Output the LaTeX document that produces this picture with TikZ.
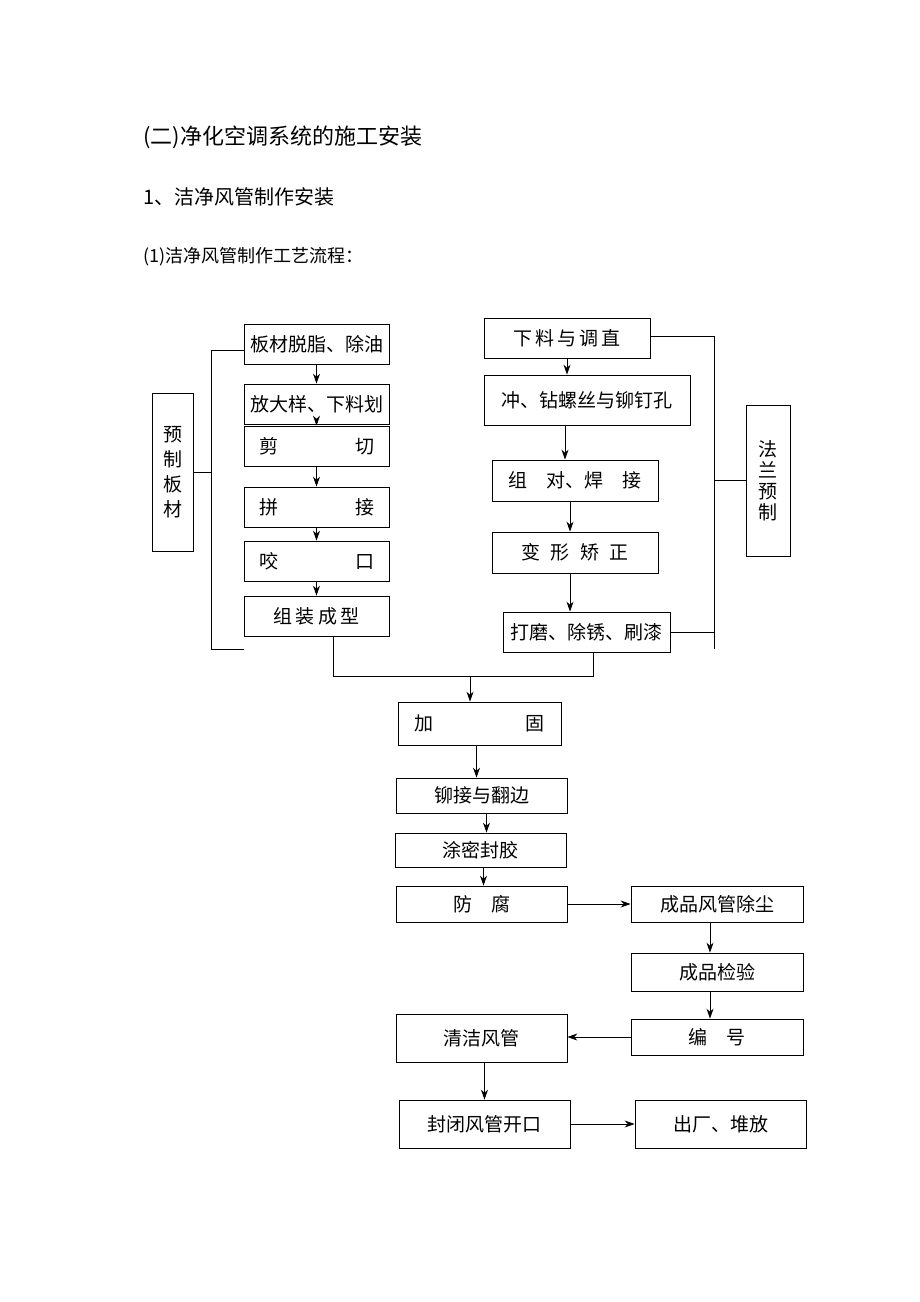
\documentclass[tikz,border=0pt]{standalone}
\usepackage{fontspec}
\setmainfont{Noto Sans CJK SC}
\usetikzlibrary{arrows.meta}
\tikzset{
  box/.style={draw,line width=0.8pt,inner sep=0pt,align=center,font=\fontsize{19}{19}\selectfont},
  arr/.style={-{Stealth[length=10pt,width=7pt]},line width=0.8pt},
  ln/.style={line width=0.8pt}
}
\begin{document}
\begin{tikzpicture}[x=1pt,y=-1pt]
  \useasboundingbox (0,0) rectangle (920,1302);
  % headings
  \node[anchor=west,font=\fontsize{22}{22}\selectfont] (h1) at (140,137) {(二)净化空调系统的施工安装};
  \node[anchor=west,font=\fontsize{20}{20}\selectfont] (h2) at (140,197) {1、洁净风管制作安装};
  \node[anchor=west,font=\fontsize{18}{18}\selectfont] (h3) at (140,257) {(1)洁净风管制作工艺流程：};
  % left column
  \node[box,minimum width=145pt,minimum height=40pt] (b1) at (316.5,344) {板材脱脂、除油};
  \node[box,minimum width=145pt,minimum height=40pt] (b2) at (316.5,404) {放大样、下料划};
  \node[box,minimum width=145pt,minimum height=40pt,text width=115pt] (b3) at (316.5,446) {剪\hfill 切};
  \node[box,minimum width=145pt,minimum height=40pt,text width=115pt] (b4) at (316.5,507) {拼\hfill 接};
  \node[box,minimum width=145pt,minimum height=40pt,text width=115pt] (b5) at (316.5,561) {咬\hfill 口};
  \node[box,minimum width=145pt,minimum height=40pt] (b6) at (316.5,616) {组\,装\,成\,型};
  \node[box,minimum width=41pt,minimum height=158pt,text width=20pt] (pre) at (172.5,472) {预\\[6pt]制\\[6pt]板\\[6pt]材};
  \foreach \a/\b in {b1/b2,b2/b3,b3/b4,b4/b5,b5/b6}
    \draw[arr] (\a.south) -- (\b.north);
  \coordinate (lt) at (211,350);
  \coordinate (lb) at (211,649);
  \draw[ln] (b1.west |- lt) -- (lt) -- (lb) -- (b6.west |- lb);
  \draw[ln] (pre.east) -- (pre.east -| lt);
  % right column
  \node[box,minimum width=166pt,minimum height=40pt] (r1) at (567,338) {下\,料\,与\,调\,直};
  \node[box,minimum width=206pt,minimum height=50pt] (r2) at (587,400) {冲、钻螺丝与铆钉孔};
  \node[box,minimum width=166pt,minimum height=41pt] (r3) at (575,480.5) {组\quad 对、焊\quad 接};
  \node[box,minimum width=166pt,minimum height=41pt] (r4) at (575,552.5) {变\;\;形\;\;矫\;\;正};
  \node[box,minimum width=167pt,minimum height=40pt] (r5) at (586.5,632) {打磨、除锈、刷漆};
  \node[box,minimum width=44pt,minimum height=151pt,text width=20pt] (fl) at (768,480.5) {法\\[2pt]兰\\[2pt]预\\[2pt]制};
  \draw[arr] (r1.south) -- (r1.south |- r2.north);
  \draw[arr] ([xshift=-22pt]r2.south) -- ([xshift=-22pt]r2.south |- r3.north);
  \draw[arr] ([xshift=-5pt]r3.south) -- ([xshift=-5pt]r4.north);
  \draw[arr] ([xshift=-5pt]r4.south) -- ([xshift=-5pt]r4.south |- r5.north);
  \coordinate (rt) at (714,336);
  \coordinate (rb) at (714,649);
  \draw[ln] (r1.east |- rt) -- (rt) -- (rb);
  \draw[ln] (r5.east) -- (r5.east -| rt);
  \draw[ln] (fl.west) -- (fl.west -| rt);
  % merge
  \coordinate (m) at (470,676);
  \draw[ln] (b6.south -| 333,0) -- (333,676) -- (593,676) -- (r5.south -| 593,0);
  % lower part
  \node[box,minimum width=163pt,minimum height=43pt,text width=130pt] (c1) at (479.5,723.5) {加\hfill 固};
  \node[box,minimum width=171pt,minimum height=35pt] (c2) at (481.5,795.5) {铆接与翻边};
  \node[box,minimum width=171pt,minimum height=34pt] (c3) at (480.5,850) {涂密封胶};
  \node[box,minimum width=171pt,minimum height=36pt] (c4) at (481.5,904) {防\quad 腐};
  \node[box,minimum width=172pt,minimum height=36pt] (d1) at (717,904) {成品风管除尘};
  \node[box,minimum width=172pt,minimum height=38pt] (d2) at (717,972) {成品检验};
  \node[box,minimum width=172pt,minimum height=36pt] (d3) at (717,1037) {编\quad 号};
  \node[box,minimum width=171pt,minimum height=48pt] (c5) at (481.5,1038) {清洁风管};
  \node[box,minimum width=171pt,minimum height=48pt] (c6) at (484.5,1124) {封闭风管开口};
  \node[box,minimum width=171pt,minimum height=48pt] (d4) at (720.5,1124) {出厂、堆放};
  \draw[arr] (m) -- (m |- c1.north);
  \draw[arr] ([xshift=-3pt]c1.south) -- ([xshift=-3pt]c1.south |- c2.north);
  \draw[arr] ([xshift=5pt]c2.south) -- ([xshift=5pt]c2.south |- c3.north);
  \draw[arr] ([xshift=3pt]c3.south) -- ([xshift=3pt]c3.south |- c4.north);
  \draw[arr] (c4.east) -- (d1.west);
  \draw[arr] ([xshift=-7pt]d1.south) -- ([xshift=-7pt]d1.south |- d2.north);
  \draw[arr] ([xshift=-7pt]d2.south) -- ([xshift=-7pt]d2.south |- d3.north);
  \draw[arr] (d3.west) -- (d3.west -| c5.east);
  \draw[arr] ([xshift=3pt]c5.south) -- ([xshift=3pt]c5.south |- c6.north);
  \draw[arr] (c6.east) -- (d4.west);
\end{tikzpicture}
\end{document}
